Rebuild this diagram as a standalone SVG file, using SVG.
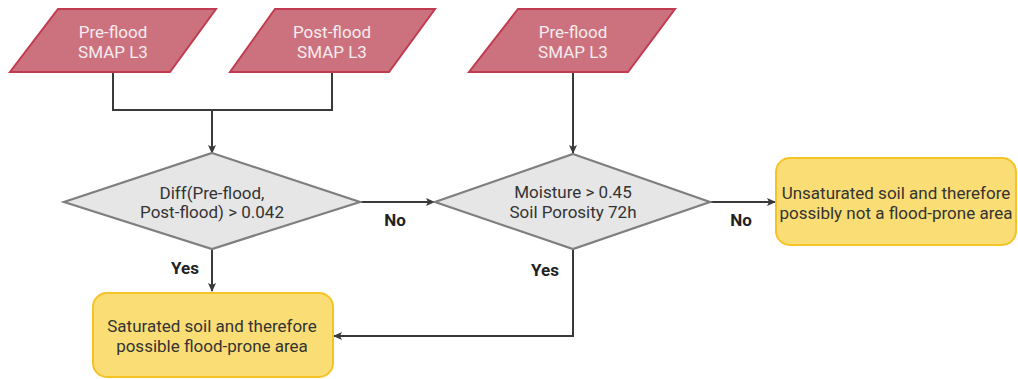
<svg xmlns="http://www.w3.org/2000/svg" width="1018" height="379" viewBox="0 0 1018 379">
<style>
.io{fill:#CC727F;stroke:#C13B50;stroke-width:2}
.io-t{fill:#F7ECEE;font-family:Roboto,"Liberation Sans",sans-serif;font-size:17px;text-anchor:middle}
.dec{fill:#E6E6E6;stroke:#7F7F7F;stroke-width:2.2}
.box{fill:#FADD74;stroke:#F5C325;stroke-width:2}
.t{fill:#333333;font-family:Roboto,"Liberation Sans",sans-serif;font-size:17px;text-anchor:middle}
.lbl{fill:#222222;font-family:Roboto,"Liberation Sans",sans-serif;font-size:17px;font-weight:bold;text-anchor:middle}
.c{fill:none;stroke:#3A3A3A;stroke-width:2}
</style>
<defs>
<marker id="arr" markerWidth="10" markerHeight="10" refX="8" refY="5" orient="auto" markerUnits="userSpaceOnUse">
<path d="M0,1 L9,5 L0,9 L2,5 Z" fill="#3A3A3A"/>
</marker>
</defs>
<rect width="1018" height="379" fill="#FFFFFF"/>
<g id="connectors">
<polyline class="c" points="113,72 113,110 332,110 332,72"/>
<line class="c" x1="212" y1="110" x2="212" y2="153" marker-end="url(#arr)"/>
<line class="c" x1="573" y1="72" x2="573" y2="153" marker-end="url(#arr)"/>
<line class="c" x1="360" y1="202" x2="434" y2="202" marker-end="url(#arr)"/>
<line class="c" x1="212" y1="249" x2="212" y2="291" marker-end="url(#arr)"/>
<line class="c" x1="710" y1="202" x2="775" y2="202" marker-end="url(#arr)"/>
<polyline class="c" points="573,249 573,336 334,336" marker-end="url(#arr)"/>
<text class="lbl" x="395" y="226">No</text>
<text class="lbl" x="185" y="274">Yes</text>
<text class="lbl" x="741" y="226">No</text>
<text class="lbl" x="545" y="276">Yes</text>
</g>
<g id="pre-flood-1">
<polygon class="io" points="58,9 216,9 170,72 10,72"/>
<text class="io-t" x="113" y="38">Pre-flood</text>
<text class="io-t" x="113" y="58">SMAP L3</text>
</g>
<g id="post-flood">
<polygon class="io" points="275,9 435,9 389,72 230,72"/>
<text class="io-t" x="332" y="38">Post-flood</text>
<text class="io-t" x="332" y="58">SMAP L3</text>
</g>
<g id="pre-flood-2">
<polygon class="io" points="518,9 675,9 628,72 469,72"/>
<text class="io-t" x="573" y="38">Pre-flood</text>
<text class="io-t" x="573" y="58">SMAP L3</text>
</g>
<g id="diff-decision">
<polygon class="dec" points="212,153 360,202 212,249 64,202"/>
<text class="t" x="212" y="199">Diff(Pre-flood,</text>
<text class="t" x="212" y="218">Post-flood) &gt; 0.042</text>
</g>
<g id="moisture-decision">
<polygon class="dec" points="573,154 710,202 573,249 435,202"/>
<text class="t" x="573" y="198">Moisture &gt; 0.45</text>
<text class="t" x="573" y="218">Soil Porosity 72h</text>
</g>
<g id="saturated">
<rect class="box" x="93" y="293" width="240" height="84" rx="14"/>
<text class="t" x="212" y="332">Saturated soil and therefore</text>
<text class="t" x="212" y="352">possible flood-prone area</text>
</g>
<g id="unsaturated">
<rect class="box" x="776" y="158" width="240" height="87" rx="14"/>
<text class="t" x="896" y="199">Unsaturated soil and therefore</text>
<text class="t" x="896" y="219">possibly not a flood-prone area</text>
</g>
</svg>
